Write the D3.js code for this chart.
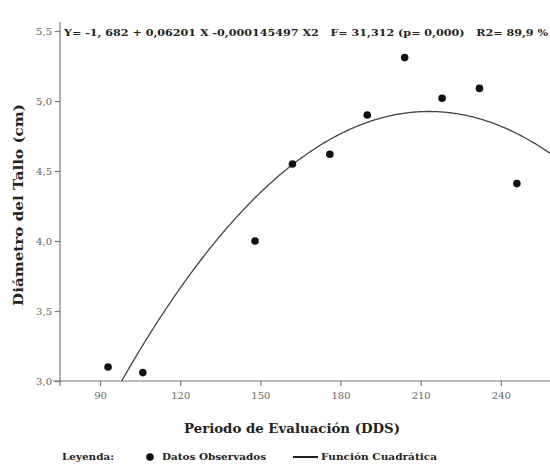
<!DOCTYPE html>
<html>
<head>
<meta charset="utf-8">
<script src="https://cdn.jsdelivr.net/npm/d3@7"></script>
<style>
  body { margin: 0; background: #fff; }
  svg { display: block; }
</style>
</head>
<body>
<div id="chart"></div>
<script>
// observed data
var dds = [93, 106, 148, 162, 176, 190, 204, 218, 232, 246];
var diametro = [3.10, 3.06, 4.00, 4.55, 4.62, 4.90, 5.31, 5.02, 5.09, 4.41];
// quadratic coefficients as printed on the chart: Y = a + bX + cX^2
var coef = [-1.682, 0.06201, -0.000145497];
var xTicks = [90, 120, 150, 180, 210, 240];
var yTicks = [3.0, 3.5, 4.0, 4.5, 5.0, 5.5];
var ecuacion = "Y= -1, 682 + 0,06201 X -0,000145497 X2   F= 31,312 (p= 0,000)   R2= 89,9 %";

var width = 550, height = 468;
var margin = { top: 22, right: 0, bottom: 87, left: 60 };

var svg = d3.select("#chart").append("svg")
  .attr("width", width)
  .attr("height", height);

var x = d3.scaleLinear().domain([75, 258.4]).range([margin.left, width - margin.right]);
var y = d3.scaleLinear().domain([3.0, 5.5]).range([381, 31]);

var fmt = function (d) { return d3.format(".1f")(d).replace(".", ","); };

// axes
var gx = svg.append("g")
  .attr("transform", "translate(0,381)")
  .call(d3.axisBottom(x).tickValues(xTicks).tickSize(5).tickPadding(6).tickSizeOuter(0));
var gy = svg.append("g")
  .attr("transform", "translate(" + margin.left + ",0)")
  .call(d3.axisLeft(y).tickValues(yTicks).tickFormat(fmt).tickSize(5).tickPadding(3).tickSizeOuter(0));

gy.select(".domain").attr("d", "M0,22V386");
gx.select(".domain").attr("d", "M53,0H550");

svg.selectAll(".domain, .tick line").attr("stroke", "#777").attr("stroke-width", 1.2);
svg.selectAll(".tick text")
  .attr("fill", "#666")
  .style("font-family", "'DejaVu Serif', serif")
  .style("font-size", "10px");

// clip for the curve
svg.append("clipPath").attr("id", "plotclip")
  .append("rect")
  .attr("x", margin.left).attr("y", 22)
  .attr("width", width - margin.left).attr("height", 381 - 22);

// fitted curve
var xs = d3.range(75, 259, 0.5);
var line = d3.line()
  .x(function (d) { return x(d); })
  .y(function (d) { return y(coef[0] + coef[1] * d + coef[2] * d * d); });

svg.append("path")
  .datum(xs)
  .attr("clip-path", "url(#plotclip)")
  .attr("fill", "none")
  .attr("stroke", "#444")
  .attr("stroke-width", 1.3)
  .attr("d", line);

// observed points
svg.selectAll(".punto")
  .data(dds)
  .enter()
  .append("circle")
  .attr("class", "punto")
  .attr("cx", function (d) { return x(d); })
  .attr("cy", function (d, i) { return y(diametro[i]); })
  .attr("r", 3.8)
  .attr("fill", "#111");

// equation text
svg.append("text")
  .attr("x", 64)
  .attr("y", 36)
  .attr("textLength", 484)
  .attr("lengthAdjust", "spacingAndGlyphs")
  .style("white-space", "pre")
  .style("font-family", "'DejaVu Serif', serif")
  .style("font-weight", "bold")
  .style("font-size", "9px")
  .attr("fill", "#222")
  .text(ecuacion);

// axis titles
svg.append("text")
  .attr("x", 292)
  .attr("y", 433)
  .attr("text-anchor", "middle")
  .attr("textLength", 216)
  .attr("lengthAdjust", "spacingAndGlyphs")
  .style("font-family", "'DejaVu Serif', serif")
  .style("font-weight", "bold")
  .style("font-size", "13px")
  .attr("fill", "#222")
  .text("Periodo de Evaluación (DDS)");

svg.append("text")
  .attr("transform", "translate(23,205) rotate(-90)")
  .attr("text-anchor", "middle")
  .attr("textLength", 202)
  .attr("lengthAdjust", "spacingAndGlyphs")
  .style("font-family", "'DejaVu Serif', serif")
  .style("font-weight", "bold")
  .style("font-size", "13px")
  .attr("fill", "#222")
  .text("Diámetro del Tallo (cm)");

// legend
var leg = svg.append("g")
  .style("font-family", "'DejaVu Serif', serif")
  .style("font-weight", "bold")
  .style("font-size", "9px")
  .attr("fill", "#222");

leg.append("text").attr("x", 62).attr("y", 460)
  .attr("textLength", 52).attr("lengthAdjust", "spacingAndGlyphs").text("Leyenda:");
leg.append("circle").attr("cx", 150).attr("cy", 457).attr("r", 3.8).attr("fill", "#111");
leg.append("text").attr("x", 162).attr("y", 460)
  .attr("textLength", 104).attr("lengthAdjust", "spacingAndGlyphs").text("Datos Observados");
leg.append("line")
  .attr("x1", 293).attr("x2", 318).attr("y1", 457).attr("y2", 457)
  .attr("stroke", "#222").attr("stroke-width", 2);
leg.append("text").attr("x", 321).attr("y", 460)
  .attr("textLength", 116).attr("lengthAdjust", "spacingAndGlyphs").text("Función Cuadrática");
</script>
</body>
</html>
